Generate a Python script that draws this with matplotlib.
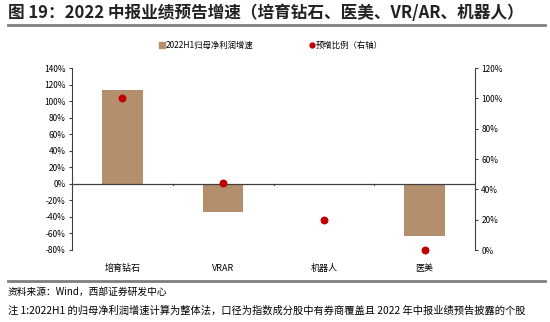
import numpy as np
import matplotlib
matplotlib.use("Agg")
import matplotlib.pyplot as plt
from matplotlib.ticker import FuncFormatter, MultipleLocator

plt.rcParams['font.family'] = ['Noto Sans CJK SC', 'DejaVu Sans']

categories = ['培育钻石', 'VRAR', '机器人', '医美']
profit_growth = [113, -33.5, -1, -63]      # 2022H1 归母净利润增速 (%)
pre_increase = [100, 44, 20, 0]           # 预增比例 (%), right axis

bar_color = '#B38F6E'
dot_color = '#C00000'

fig = plt.figure(figsize=(5.5, 3.22), dpi=100)
W, H = 550, 322

# axes region in pixels: x 72..475, y 68..250
ax = fig.add_axes([72 / W, 1 - 250 / H, (475 - 72) / W, (250 - 68) / H])
x = np.arange(len(categories))
ax.bar(x, profit_growth, width=0.4, color=bar_color, zorder=2)
ax.set_xlim(-0.5, len(categories) - 0.5)
ax.set_ylim(-80, 140)
ax.yaxis.set_major_locator(MultipleLocator(20))
ax.yaxis.set_major_formatter(FuncFormatter(lambda v, p: f'{v:.0f}%'))
ax.axhline(0, color='#404040', lw=0.9, zorder=3)
for s in ['top', 'right', 'bottom']:
    ax.spines[s].set_visible(False)
ax.spines['left'].set_color('#404040')
ax.tick_params(axis='y', labelsize=6, length=2.5, width=0.8, color='#404040', pad=2)
ax.set_xticks(x)
ax.set_xticklabels(categories, fontsize=6.5)
ax.tick_params(axis='x', length=0, pad=10)
for b in [0.5, 1.5, 2.5]:
    ax.plot([b, b], [0, -2], color='#404040', lw=0.8, zorder=3)

ax2 = ax.twinx()
ax2.scatter(x, pre_increase, s=22, color=dot_color, zorder=5, clip_on=False)
ax2.set_ylim(0, 120)
ax2.yaxis.set_major_locator(MultipleLocator(20))
ax2.yaxis.set_major_formatter(FuncFormatter(lambda v, p: f'{v:.0f}%'))
for s in ['top', 'left', 'bottom']:
    ax2.spines[s].set_visible(False)
ax2.spines['right'].set_color('#404040')
ax2.tick_params(axis='y', labelsize=6, length=2.5, width=0.8, color='#404040', pad=2)

# title and decoration
fig.text(8 / W, 1 - 13 / H, '图 19：2022 中报业绩预告增速（培育钻石、医美、VR/AR、机器人）',
         fontsize=12, fontweight='bold', va='center', ha='left', color='#222222')
fig.add_artist(plt.Line2D([8 / W, 545 / W], [1 - 24.5 / H, 1 - 24.5 / H], color='#7f7f7f', lw=2))
fig.add_artist(plt.Line2D([8 / W, 545 / W], [1 - 281 / H, 1 - 281 / H], color='#7f7f7f', lw=2))

# legend
fig.add_artist(plt.Line2D([162 / W], [1 - 45 / H], marker='s', ms=4, color=bar_color, lw=0))
fig.text(166 / W, 1 - 45 / H, '2022H1归母净利润增速', fontsize=6, va='center', ha='left')
fig.add_artist(plt.Line2D([312 / W], [1 - 45 / H], marker='o', ms=3.5, color=dot_color, lw=0))
fig.text(316 / W, 1 - 45 / H, '预增比例（右轴）', fontsize=6, va='center', ha='left')

fig.text(8 / W, 1 - 292 / H, '资料来源：Wind，西部证券研发中心', fontsize=7, va='center', ha='left')
fig.text(8 / W, 1 - 311 / H,
         '注 1:2022H1 的归母净利润增速计算为整体法，口径为指数成分股中有券商覆盖且 2022 年中报业绩预告披露的个股',
         fontsize=7.4, va='center', ha='left')

fig.savefig('out.png', dpi=100)
